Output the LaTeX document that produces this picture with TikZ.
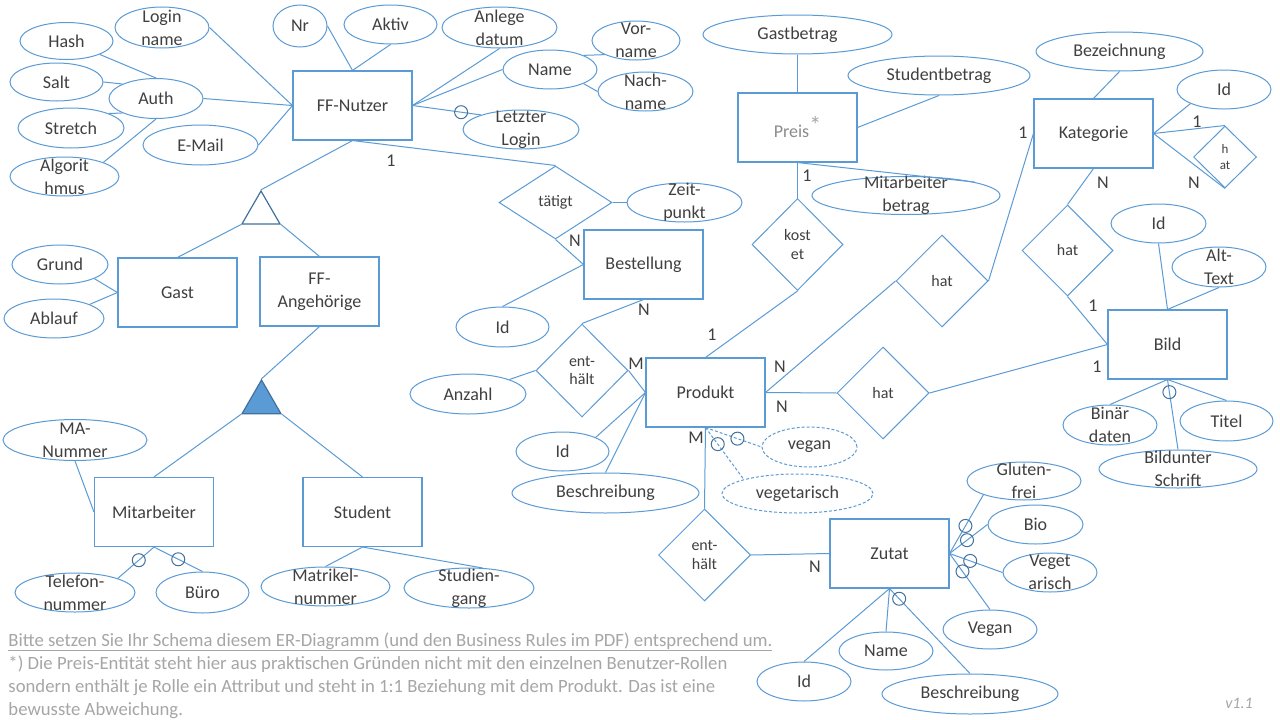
\documentclass[tikz,border=0pt]{standalone}
\usepackage{fontspec}
\setmainfont{Carlito}
\usetikzlibrary{shapes.geometric}
\definecolor{lb}{HTML}{5B9BD5}
\definecolor{db}{HTML}{41719C}
\definecolor{tx}{HTML}{404040}
\definecolor{pt}{HTML}{8C8C8C}
\definecolor{nt}{HTML}{A6A6A6}
\newcommand\fEnt{\fontsize{18}{23}\selectfont}
\newcommand\fRel{\fontsize{16}{18.5}\selectfont}
\newcommand\fNote{\fontsize{18.7}{23}\selectfont}

\begin{document}
\begin{tikzpicture}[x=1pt,y=-1pt,line width=1pt,
  ent/.style={rectangle, draw=lb, line width=1.1pt, minimum width=119pt, minimum height=69pt,
    inner sep=0pt, align=center, text=tx, font=\fEnt},
  att/.style 2 args={ellipse, draw=lb, minimum width=#1pt, minimum height=#2pt, inner sep=0pt},
  atx/.style={text=tx, font=\fEnt, align=center, inner sep=0pt},
  rel/.style 2 args={diamond, draw=lb, minimum width=#1pt, minimum height=#2pt, inner sep=0pt,
    text=tx, font=\fRel, align=center},
  isatri/.style={regular polygon, regular polygon sides=3, inner sep=0pt, draw=db, line width=1.2pt},
  con/.style={draw=lb},
  optc/.style={circle, draw=db, solid, minimum size=13pt, inner sep=0pt},
  card/.style={text=tx, font=\fEnt, inner sep=0pt},
  note/.style={text=nt, font=\fNote, inner sep=0pt, anchor=base west},
  dsh/.style={dash pattern=on 3pt off 2pt}
]
\fill[white] (0,0) rectangle (1280,720);
\useasboundingbox (0,0) rectangle (1280,720);

% ---------- entities ----------
\node[ent] (nutzer) at (352.5,105.5) {FF-Nutzer};
\node[ent] (preis) at (797.5,127.5) {\textcolor{pt}{Preis}\raisebox{4pt}{\textcolor{nt}{\fontsize{24}{24}\selectfont *}}};
\node[ent] (kat) at (1093.5,133.5) {Kategorie};
\node[ent] (gast) at (177.5,292.5) {Gast};
\node[ent] (ffang) at (319.5,291.5) {FF-\\Angehörige};
\node[ent] (best) at (643.5,264.5) {Bestellung};
\node[ent] (prod) at (705.5,392.5) {Produkt};
\node[ent] (bild) at (1167.5,344.5) {Bild};
\node[ent] (mitarb) at (154,512) {Mitarbeiter};
\node[ent] (student) at (362.5,512) {Student};
\node[ent] (zutat) at (889.5,553.5) {Zutat};

% ---------- generalisation triangles ----------
\node[isatri, minimum size=44pt, fill=white] (isa) at (261,213) {};
\node[isatri, minimum size=45pt, fill=lb] (isb) at (261.5,402.5) {};

% ---------- relationships ----------
\node[rel={113}{73}] (taetigt) at (555.5,202.5) {tätigt};
\node[rel={92}{93}] (enth1) at (582,370.5) {ent-\\hält};
\node[rel={92}{92}] (enth2) at (704.5,555) {ent-\\hält};
\node[rel={91}{92}] (kostet) at (797.5,244.5) {kost\\et};
\node[rel={92}{92}] (hatpk) at (942,281) {hat};
\node[rel={92}{92}] (hatpb) at (883,393) {hat};
\node[rel={91}{91}] (hatkb) at (1067.5,250.5) {hat};
\node[rel={63}{62}, font=\fontsize{13}{16}\selectfont] (selfrel) at (1225,157) {h\\at};

% ---------- attributes: FF-Nutzer ----------
\node[att={54}{42}, label={[atx]center:Nr}] (nr) at (300,26) {};
\node[att={93}{39}, label={[atx]center:Aktiv}] (aktiv) at (390.5,24.5) {};
\node[att={115}{41}, label={[atx]center:Anlege\\datum}] (anlege) at (499.5,27.5) {};
\node[att={94}{39}, label={[atx]center:Name}] (name) at (550,69.5) {};
\node[att={88}{39}, label={[atx]center:Vor-\\name}] (vorname) at (636,40.5) {};
\node[att={95}{39}, label={[atx]center:Nach-\\name}] (nachname) at (645.5,91.5) {};
\node[att={116}{39}, label={[atx]center:Letzter\\Login}] (lastlogin) at (521,129.5) {};
\node[att={94}{41}, label={[atx]center:Login\\name}] (login) at (162,27.5) {};
\node[att={94}{40}, label={[atx]center:Auth}] (auth) at (156,98.5) {};
\node[att={93}{37}, label={[atx]center:Hash}] (hash) at (66.5,41) {};
\node[att={93}{38}, label={[atx]center:Salt}] (salt) at (56.5,82) {};
\node[att={106}{40}, label={[atx]center:Stretch}] (stretch) at (71,128) {};
\node[att={109}{39}, label={[atx]center:Algorit\\hmus}] (algo) at (64.5,176.5) {};
\node[att={115}{40}, label={[atx]center:E-Mail}] (email) at (200.5,145) {};

% ---------- attributes: Gast, Mitarbeiter, Student ----------
\node[att={96}{39}, label={[atx]center:Grund}] (grund) at (60,264.5) {};
\node[att={100}{39}, label={[atx]center:Ablauf}] (ablauf) at (54,318.5) {};
\node[att={144}{41}, label={[atx]center:MA-\\Nummer}] (manr) at (75,440) {};
\node[att={120}{39}, label={[atx]center:Telefon-\\nummer}] (telefon) at (75,592.5) {};
\node[att={93}{41}, label={[atx]center:Büro}] (buero) at (202.5,592.5) {};
\node[att={129}{39}, label={[atx]center:Matrikel-\\nummer}] (matrikel) at (325.5,586.5) {};
\node[att={130}{40}, label={[atx]center:Studien-\\gang}] (studiengang) at (469,588) {};

% ---------- attributes: Bestellung, Produkt ----------
\node[att={115}{39}, label={[atx]center:Zeit-\\punkt}] (zeitpunkt) at (684.5,202.5) {};
\node[att={93}{40}, label={[atx]center:Id}] (bestid) at (502.5,327) {};
\node[att={116}{40}, label={[atx]center:Anzahl}] (anzahl) at (468,394) {};
\node[att={93}{39}, label={[atx]center:Id}] (prodid) at (562.5,451.5) {};
\node[att={187}{40}, label={[atx]center:Beschreibung}] (prodbes) at (605.5,493) {};
\node[att={95}{40}, dsh, label={[atx]center:vegan}] (vegan) at (809.5,447) {};
\node[att={151}{39}, dsh, label={[atx]center:vegetarisch}] (vegetar) at (797.5,493.5) {};

% ---------- attributes: Preis ----------
\node[att={189}{39}, label={[atx]center:Gastbetrag}] (gastb) at (797.5,34.5) {};
\node[att={182}{39}, label={[atx]center:Studentbetrag}] (studb) at (939,75.5) {};
\node[att={188}{38}, label={[atx]center:Mitarbeiter\\betrag}] (mab) at (906,195.5) {};

% ---------- attributes: Kategorie, Bild ----------
\node[att={167}{39}, label={[atx]center:Bezeichnung}] (bez) at (1119.5,51.5) {};
\node[att={94}{39}, label={[atx]center:Id}] (katid) at (1224,89.5) {};
\node[att={95}{39}, label={[atx]center:Id}] (bildid) at (1158.5,223.5) {};
\node[att={94}{40}, label={[atx]center:Alt-\\Text}] (alttext) at (1219,267) {};
\node[att={94}{40}, label={[atx]center:Binär\\daten}] (binaer) at (1110,425) {};
\node[att={93}{40}, label={[atx]center:Titel}] (titel) at (1226.5,421) {};
\node[att={158}{38}, label={[atx]center:Bildunter\\Schrift}] (unterschrift) at (1178,469) {};

% ---------- attributes: Zutat ----------
\node[att={114}{38}, label={[atx]center:Gluten-\\frei}] (gluten) at (1024,481) {};
\node[att={95}{39}, label={[atx]center:Bio}] (bio) at (1035.5,524.5) {};
\node[att={94}{39}, label={[atx]center:Veget\\arisch}] (vegetz) at (1050,572.5) {};
\node[att={94}{39}, label={[atx]center:Vegan}] (veganz) at (990,629.5) {};
\node[att={94}{39}, label={[atx]center:Id}] (zid) at (804,681.5) {};
\node[att={94}{38}, label={[atx]center:Name}] (zname) at (886,651) {};
\node[att={176}{40}, label={[atx]center:Beschreibung}] (zbes) at (970,694) {};

% ---------- connectors ----------
\draw[con] (nr.east) -- (nutzer.north);
\draw[con] (aktiv.south) -- (nutzer.north);
\draw[con] (anlege.south) -- (nutzer.east);
\draw[con] (name.west) -- (nutzer.east);
\draw[con] (name.north east) -- (vorname.south west);
\draw[con] (name.south east) -- (nachname.west);
\draw[con] (nutzer.east) -- node[optc, pos=0.71] (o1) {} (lastlogin.160);
\draw[con] (login.east) -- (nutzer.west);
\draw[con] (auth.east) -- (nutzer.west);
\draw[con] (email.east) -- (nutzer.west);
\draw[con] (hash.south east) -- (auth.north);
\draw[con] (salt.east) -- (auth.north west);
\draw[con] (stretch.north east) -- (auth.south west);
\draw[con] (algo.north east) -- (auth.south);
\draw[con] (nutzer.south) -- (isa.corner 1);
\draw[con] (nutzer.south) -- (taetigt.north);
\draw[con] (isa.corner 2) -- (gast.north);
\draw[con] (isa.corner 3) -- (ffang.north);
\draw[con] (grund.south east) -- (gast.west);
\draw[con] (ablauf.north east) -- (gast.west);
\draw[con] (ffang.south) -- (isb.corner 1);
\draw[con] (isb.corner 2) -- (mitarb.north);
\draw[con] (isb.corner 3) -- (student.north);
\draw[con] (manr.south) -- (mitarb.west);
\draw[con] (mitarb.south) -- node[optc, pos=0.42] (o2) {} (telefon.north east);
\draw[con] (mitarb.south) -- node[optc, pos=0.5] (o3) {} (buero.north);
\draw[con] (student.south) -- (matrikel.north);
\draw[con] (student.south) -- (studiengang.56);
\draw[con] (taetigt.east) -- (zeitpunkt.west);
\draw[con] (taetigt.south) -- (best.west);
\draw[con] (bestid.north) -- (best.west);
\draw[con] (best.south) -- (enth1.north);
\draw[con] (enth1.east) -- (prod.west);
\draw[con] (anzahl.north east) -- (enth1.west);
\draw[con] (prodid.north east) -- (prod.west);
\draw[con] (prodbes.north) -- (prod.west);
\draw[con, dsh] (prod.south) -- node[optc, pos=0.57] (o4) {} (vegan.west);
\draw[con, dsh] (prod.south) -- node[optc, pos=0.32] (o5) {} (vegetar.north west);
\draw[con] (prod.south) -- (enth2.north);
\draw[con] (enth2.east) -- (zutat.west);
\draw[con] (prod.north) -- (kostet.south);
\draw[con] (kostet.north) -- (preis.south);
\draw[con] (gastb.south) -- (preis.north);
\draw[con] (preis.east) -- (studb.south);
\draw[con] (preis.south) -- (mab.11);
\draw[con] (prod.east) -- (hatpk.west);
\draw[con] (hatpk.east) -- (kat.west);
\draw[con] (prod.east) -- (hatpb.west);
\draw[con] (hatpb.east) -- (bild.west);
\draw[con] (kat.south) -- (hatkb.north);
\draw[con] (hatkb.south) -- (bild.west);
\draw[con] (kat.east) -- (selfrel.north);
\draw[con] (kat.east) -- (selfrel.south);
\draw[con] (katid.south west) -- (kat.east);
\draw[con] (bez.south) -- (kat.north);
\draw[con] (bildid.south) -- (bild.north);
\draw[con] (alttext.south) -- (bild.north);
\draw[con] (bild.south) -- (binaer.north);
\draw[con] (bild.south) -- node[optc, pos=0.18] (o6) {} (unterschrift.north);
\draw[con] (bild.south) -- (titel.north);
\draw[con] (zutat.east) -- node[optc, pos=0.47] (o7) {} (gluten.south west);
\draw[con] (zutat.east) -- node[optc, pos=0.46] (o8) {} (bio.west);
\draw[con] (zutat.east) -- node[optc, pos=0.39] (o9) {} (vegetz.west);
\draw[con] (zutat.east) -- node[optc, pos=0.32] (o10) {} (veganz.north);
\draw[con] (zutat.south) -- (zid.north);
\draw[con] (zutat.south) -- (zname.north);
\draw[con] (zutat.south) -- node[optc, pos=0.12] (o11) {} (zbes.north);

% ---------- cardinalities ----------
\node[card] (c1) at (391,161) {1};
\node[card] (c2) at (575,241) {N};
\node[card] (c3) at (644,310) {N};
\node[card] (c4) at (636,364) {M};
\node[card] (c5) at (712,335) {1};
\node[card] (c6) at (807,176) {1};
\node[card] (c7) at (780,367) {N};
\node[card] (c8) at (782,407) {N};
\node[card] (c9) at (696,438) {M};
\node[card] (c10) at (815,567) {N};
\node[card] (c11) at (1023,133) {1};
\node[card] (c12) at (1103,183) {N};
\node[card] (c13) at (1197,122) {1};
\node[card] (c14) at (1194,183) {N};
\node[card] (c15) at (1093,306) {1};
\node[card] (c16) at (1097,367) {1};

% ---------- notes ----------
\node[note] (n1) at (8,646) {\underline{Bitte setzen Sie Ihr Schema diesem ER-Diagramm (und den Business Rules im PDF) entsprechend um.}};
\node[note] (n2) at (8,669) {*) Die Preis-Entität steht hier aus praktischen Gründen nicht mit den einzelnen Benutzer-Rollen};
\node[note] (n3) at (8,692) {sondern enthält je Rolle ein Attribut und steht in 1:1 Beziehung mit dem Produkt. Das ist eine};
\node[note] (n4) at (8,715) {bewusste Abweichung.};
\node[text=nt, font=\fontsize{16}{18}\selectfont\itshape, inner sep=0pt] (ver) at (1239,703) {v1.1};
\end{tikzpicture}
\end{document}
